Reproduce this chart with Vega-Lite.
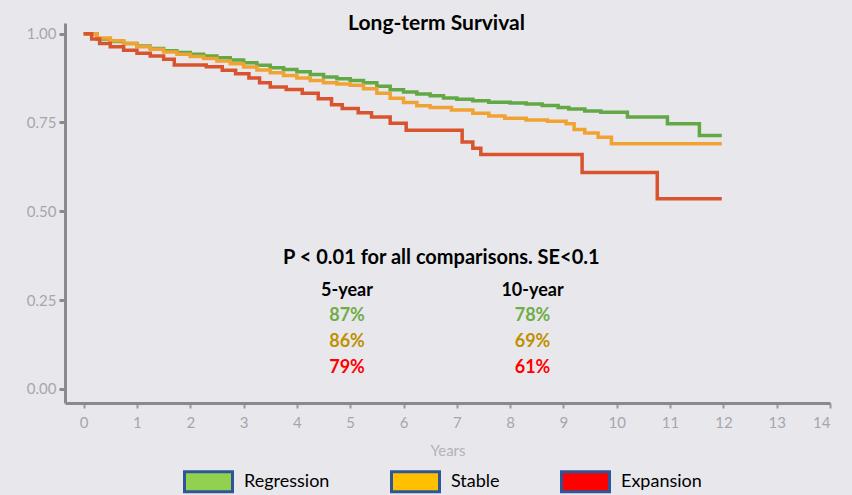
{
  "$schema": "https://vega.github.io/schema/vega-lite/v6.json",
  "width": 765,
  "height": 380,
  "autosize": {"type": "none"},
  "padding": {"left": 65, "top": 23, "right": 22, "bottom": 92},
  "background": "#e8e8ec",
  "config": {"view": {"stroke": null}, "font": "Lato"},
  "title": {"text": "Long-term Survival", "fontSize": 21, "fontWeight": "bold", "color": "#000000", "font": "Lato", "anchor": "middle", "baseline": "alphabetic", "offset": 0, "dx": -11, "dy": 28},
  "datasets": {
    "curves": [
      {"series": "Regression", "t": 0, "s": 1.0},
      {"series": "Regression", "t": 0.25, "s": 0.985},
      {"series": "Regression", "t": 0.5, "s": 0.978},
      {"series": "Regression", "t": 0.75, "s": 0.972},
      {"series": "Regression", "t": 1.0, "s": 0.965},
      {"series": "Regression", "t": 1.25, "s": 0.958},
      {"series": "Regression", "t": 1.5, "s": 0.952},
      {"series": "Regression", "t": 1.75, "s": 0.947},
      {"series": "Regression", "t": 2.0, "s": 0.942},
      {"series": "Regression", "t": 2.25, "s": 0.937},
      {"series": "Regression", "t": 2.5, "s": 0.932},
      {"series": "Regression", "t": 2.75, "s": 0.926},
      {"series": "Regression", "t": 3.0, "s": 0.918},
      {"series": "Regression", "t": 3.25, "s": 0.911},
      {"series": "Regression", "t": 3.5, "s": 0.904},
      {"series": "Regression", "t": 3.75, "s": 0.899},
      {"series": "Regression", "t": 4.0, "s": 0.893},
      {"series": "Regression", "t": 4.25, "s": 0.885},
      {"series": "Regression", "t": 4.5, "s": 0.878},
      {"series": "Regression", "t": 4.75, "s": 0.873},
      {"series": "Regression", "t": 5.0, "s": 0.868},
      {"series": "Regression", "t": 5.25, "s": 0.862},
      {"series": "Regression", "t": 5.5, "s": 0.852},
      {"series": "Regression", "t": 5.75, "s": 0.842},
      {"series": "Regression", "t": 6.0, "s": 0.836},
      {"series": "Regression", "t": 6.25, "s": 0.83},
      {"series": "Regression", "t": 6.5, "s": 0.825},
      {"series": "Regression", "t": 6.75, "s": 0.819},
      {"series": "Regression", "t": 7.0, "s": 0.815},
      {"series": "Regression", "t": 7.3, "s": 0.811},
      {"series": "Regression", "t": 7.6, "s": 0.807},
      {"series": "Regression", "t": 8.0, "s": 0.805},
      {"series": "Regression", "t": 8.3, "s": 0.802},
      {"series": "Regression", "t": 8.6, "s": 0.798},
      {"series": "Regression", "t": 8.9, "s": 0.792},
      {"series": "Regression", "t": 9.1, "s": 0.788},
      {"series": "Regression", "t": 9.4, "s": 0.782},
      {"series": "Regression", "t": 9.7, "s": 0.779},
      {"series": "Regression", "t": 10.2, "s": 0.765},
      {"series": "Regression", "t": 10.95, "s": 0.746},
      {"series": "Regression", "t": 11.55, "s": 0.713},
      {"series": "Regression", "t": 11.97, "s": 0.713},
      {"series": "Stable", "t": 0, "s": 1.0},
      {"series": "Stable", "t": 0.25, "s": 0.988},
      {"series": "Stable", "t": 0.5, "s": 0.98},
      {"series": "Stable", "t": 0.75, "s": 0.972},
      {"series": "Stable", "t": 1.0, "s": 0.963},
      {"series": "Stable", "t": 1.25, "s": 0.956},
      {"series": "Stable", "t": 1.5, "s": 0.948},
      {"series": "Stable", "t": 1.75, "s": 0.942},
      {"series": "Stable", "t": 2.0, "s": 0.936},
      {"series": "Stable", "t": 2.25, "s": 0.93},
      {"series": "Stable", "t": 2.5, "s": 0.923},
      {"series": "Stable", "t": 2.75, "s": 0.915},
      {"series": "Stable", "t": 3.0, "s": 0.906},
      {"series": "Stable", "t": 3.25, "s": 0.898},
      {"series": "Stable", "t": 3.5, "s": 0.89},
      {"series": "Stable", "t": 3.75, "s": 0.882},
      {"series": "Stable", "t": 4.0, "s": 0.875},
      {"series": "Stable", "t": 4.25, "s": 0.868},
      {"series": "Stable", "t": 4.5, "s": 0.862},
      {"series": "Stable", "t": 4.75, "s": 0.858},
      {"series": "Stable", "t": 5.0, "s": 0.855},
      {"series": "Stable", "t": 5.25, "s": 0.845},
      {"series": "Stable", "t": 5.5, "s": 0.832},
      {"series": "Stable", "t": 5.75, "s": 0.818},
      {"series": "Stable", "t": 6.0, "s": 0.806},
      {"series": "Stable", "t": 6.25, "s": 0.797},
      {"series": "Stable", "t": 6.5, "s": 0.792},
      {"series": "Stable", "t": 6.9, "s": 0.785},
      {"series": "Stable", "t": 7.3, "s": 0.776},
      {"series": "Stable", "t": 7.6, "s": 0.768},
      {"series": "Stable", "t": 7.9, "s": 0.762},
      {"series": "Stable", "t": 8.3, "s": 0.757},
      {"series": "Stable", "t": 8.7, "s": 0.753},
      {"series": "Stable", "t": 9.05, "s": 0.746},
      {"series": "Stable", "t": 9.2, "s": 0.73},
      {"series": "Stable", "t": 9.4, "s": 0.72},
      {"series": "Stable", "t": 9.65, "s": 0.708},
      {"series": "Stable", "t": 9.9, "s": 0.69},
      {"series": "Stable", "t": 11.97, "s": 0.69},
      {"series": "Expansion", "t": 0, "s": 1.0},
      {"series": "Expansion", "t": 0.15, "s": 0.985},
      {"series": "Expansion", "t": 0.3, "s": 0.972},
      {"series": "Expansion", "t": 0.5, "s": 0.963},
      {"series": "Expansion", "t": 0.75, "s": 0.953},
      {"series": "Expansion", "t": 1.0, "s": 0.945},
      {"series": "Expansion", "t": 1.25, "s": 0.937},
      {"series": "Expansion", "t": 1.5, "s": 0.928},
      {"series": "Expansion", "t": 1.7, "s": 0.912},
      {"series": "Expansion", "t": 2.3, "s": 0.907},
      {"series": "Expansion", "t": 2.6, "s": 0.897},
      {"series": "Expansion", "t": 2.85, "s": 0.887},
      {"series": "Expansion", "t": 3.1, "s": 0.875},
      {"series": "Expansion", "t": 3.3, "s": 0.862},
      {"series": "Expansion", "t": 3.5, "s": 0.85},
      {"series": "Expansion", "t": 3.8, "s": 0.843},
      {"series": "Expansion", "t": 4.1, "s": 0.832},
      {"series": "Expansion", "t": 4.4, "s": 0.817},
      {"series": "Expansion", "t": 4.65, "s": 0.8},
      {"series": "Expansion", "t": 4.85, "s": 0.789},
      {"series": "Expansion", "t": 5.15, "s": 0.777},
      {"series": "Expansion", "t": 5.4, "s": 0.765},
      {"series": "Expansion", "t": 5.75, "s": 0.748},
      {"series": "Expansion", "t": 6.05, "s": 0.728},
      {"series": "Expansion", "t": 7.1, "s": 0.695},
      {"series": "Expansion", "t": 7.3, "s": 0.677},
      {"series": "Expansion", "t": 7.45, "s": 0.66},
      {"series": "Expansion", "t": 9.35, "s": 0.609},
      {"series": "Expansion", "t": 10.76, "s": 0.535},
      {"series": "Expansion", "t": 11.97, "s": 0.535}
    ],
    "headline": [
      {"label": "P < 0.01 for all comparisons. SE<0.1", "t": 6.71, "s": 0.35}
    ],
    "table": [
      {"label": "5-year", "t": 4.94, "s": 0.26, "tone": "head"},
      {"label": "87%", "t": 4.94, "s": 0.19, "tone": "Regression"},
      {"label": "86%", "t": 4.94, "s": 0.117, "tone": "Stable"},
      {"label": "79%", "t": 4.94, "s": 0.044, "tone": "Expansion"},
      {"label": "10-year", "t": 8.42, "s": 0.26, "tone": "head"},
      {"label": "78%", "t": 8.42, "s": 0.19, "tone": "Regression"},
      {"label": "69%", "t": 8.42, "s": 0.117, "tone": "Stable"},
      {"label": "61%", "t": 8.42, "s": 0.044, "tone": "Expansion"}
    ]
  },
  "encoding": {
    "x": {
      "field": "t", "type": "quantitative",
      "scale": {"domain": [-0.35, 14], "nice": false, "zero": false},
      "axis": {
        "values": [0, 1, 2, 3, 4, 5, 6, 7, 8, 9, 10, 11, 12, 13, 14],
        "format": "d", "grid": false, "title": "Years",
        "labelColor": "#a6a6ac", "labelFontSize": 15, "labelFont": "Lato", "labelPadding": 7,
        "tickColor": "#9a9a9e", "tickSize": 5, "tickWidth": 2,
        "domainColor": "#8a8a8e", "domainWidth": 3,
        "titleColor": "#b2b2ba", "titleFontSize": 15, "titleFontWeight": "normal", "titleFont": "Lato", "titlePadding": 13
      }
    },
    "y": {
      "field": "s", "type": "quantitative",
      "scale": {"domain": [-0.04, 1.03], "nice": false, "zero": false},
      "axis": {
        "values": [0, 0.25, 0.5, 0.75, 1],
        "format": ".2f", "grid": false, "title": null,
        "labelColor": "#a6a6ac", "labelFontSize": 15, "labelFont": "Lato", "labelPadding": 3,
        "tickColor": "#8a8a8e", "tickSize": 6, "tickWidth": 3,
        "domainColor": "#8a8a8e", "domainWidth": 3
      }
    }
  },
  "layer": [
    {
      "data": {"name": "curves"},
      "mark": {"type": "line", "interpolate": "step-after", "strokeWidth": 3.5},
      "encoding": {
        "stroke": {
          "field": "series", "type": "nominal",
          "scale": {"domain": ["Expansion", "Stable", "Regression"], "range": ["#d8532e", "#f0a232", "#62a845"]},
          "legend": null
        }
      }
    },
    {
      "data": {"name": "curves"},
      "mark": {"type": "point", "filled": true, "opacity": 0, "stroke": "#2f5597", "strokeWidth": 3},
      "encoding": {
        "fill": {
          "field": "series", "type": "nominal",
          "scale": {"domain": ["Regression", "Stable", "Expansion"], "range": ["#92d050", "#ffc000", "#ff0000"]},
          "legend": {
            "title": null, "orient": "none", "legendX": 118, "legendY": 433, "direction": "horizontal",
            "symbolType": "M-1,-0.42H1V0.42H-1Z", "symbolSize": 2304,
            "symbolStrokeColor": "#2f5597", "symbolStrokeWidth": 3, "symbolOpacity": 1,
            "labelFontSize": 18, "labelFont": "Lato", "labelColor": "#000000", "labelOffset": 10,
            "columnPadding": 55, "labelLimit": 300
          }
        }
      }
    },
    {
      "data": {"name": "headline"},
      "mark": {"type": "text", "fontSize": 20, "fontWeight": "bold", "font": "Lato", "baseline": "alphabetic", "align": "center", "color": "#000000"},
      "encoding": {"text": {"field": "label"}}
    },
    {
      "data": {"name": "table"},
      "mark": {"type": "text", "fontSize": 18, "fontWeight": "bold", "font": "Lato", "baseline": "alphabetic", "align": "center"},
      "encoding": {
        "text": {"field": "label"},
        "color": {
          "field": "tone", "type": "nominal",
          "scale": {"domain": ["head", "Regression", "Stable", "Expansion"], "range": ["#000000", "#70ad47", "#bf9000", "#ff0000"]},
          "legend": null
        }
      }
    }
  ]
}
